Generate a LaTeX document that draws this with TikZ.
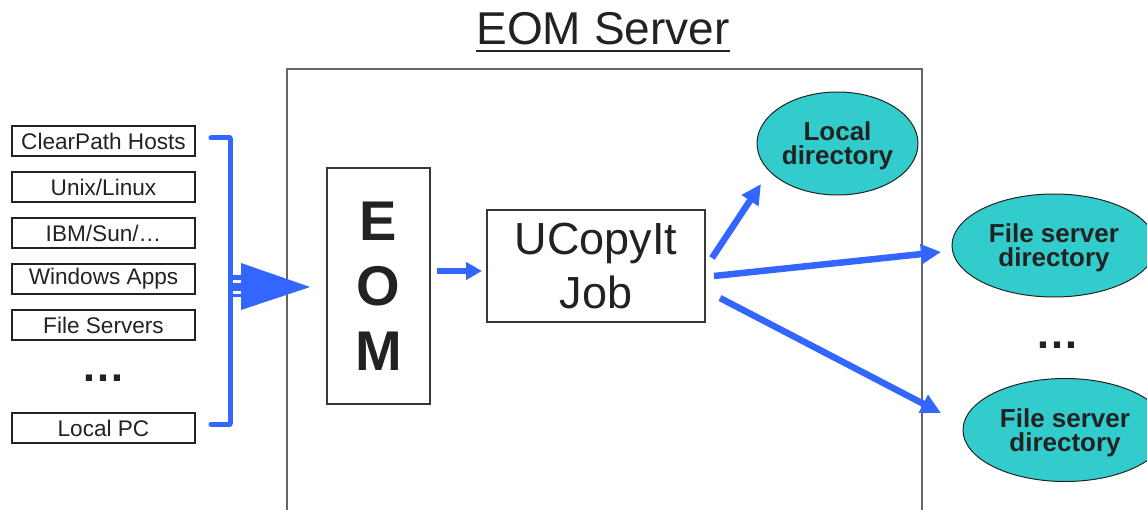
\documentclass[tikz,border=0pt]{standalone}
\usepackage{fontspec}
\setmainfont{Liberation Sans}
\usetikzlibrary{arrows.meta,shapes.geometric}
\definecolor{arrblue}{RGB}{51,102,255}
\definecolor{dirfill}{RGB}{51,204,204}
\definecolor{txt}{RGB}{34,34,34}
\definecolor{framegray}{RGB}{102,102,102}
\tikzset{
  srcbox/.style={draw=txt, line width=1.2pt, minimum width=183pt, minimum height=30pt, inner sep=0pt, font=\fontsize{22.6}{26}\selectfont, text=txt},
  procbox/.style={draw=txt!90, line width=1.2pt, inner sep=0pt, align=center, text=txt},
  dirnode/.style={ellipse, draw=txt, line width=1pt, fill=dirfill, inner sep=0pt, minimum height=103pt, align=center, text depth=0pt, font=\bfseries\fontsize{26}{24}\selectfont, text=txt},
  flow/.style={draw=arrblue, line width=6.5pt, -{Triangle[length=20pt,width=19pt]}},
  dotsnode/.style={anchor=base, inner sep=0pt, font=\bfseries\fontsize{44}{44}\selectfont, text=txt}
}
\begin{document}
\begin{tikzpicture}[x=1pt,y=-1pt]
\useasboundingbox (0,0) rectangle (1147,510);
% title
\node[anchor=base, inner sep=0pt, font=\fontsize{46}{50}\selectfont, text=txt] (title) at (603,45) {EOM Server};
\draw[line width=2.7pt, txt] ([yshift=-6pt]title.base west) -- ([yshift=-6pt]title.base east);
% server frame
\draw[framegray, line width=1.5pt] (287,512) -- (287,69) -- (922,69) -- (922,512);
% sources
\node[srcbox] (s1) at (103.5,141) {ClearPath Hosts};
\node[srcbox] (s2) at (103.5,187) {Unix/Linux};
\node[srcbox] (s3) at (103.5,233) {IBM/Sun/…};
\node[srcbox] (s4) at (103.5,279) {Windows Apps};
\node[srcbox] (s5) at (103.5,325) {File Servers};
\node[dotsnode] (ldots) at (103.5,381) {…};
\node[srcbox] (s6) at (103.5,428) {Local PC};
% bracket
\coordinate (bt) at (211,138);
\coordinate (bb) at (211,424);
\draw[arrblue, line width=5pt, line cap=round] (bt) -- (230,138);
\draw[arrblue, line width=5pt, line cap=round] (bb) -- (230,424);
\draw[arrblue, line width=5pt] (230,138) -- (230,424);
% big arrow
\fill[arrblue] (232,275) rectangle (241.5,297);
\fill[arrblue] (241,263) -- (310,287) -- (241,310) -- cycle;
\fill[white] (233,280) rectangle (241,283);
\fill[white] (233,291) rectangle (241,294);
% EOM box
\node[procbox, minimum width=103pt, minimum height=236pt, font=\bfseries\fontsize{56}{65}\selectfont] (eom) at (378.5,286) {E\\O\\M};
% UCopyIt box
\node[procbox, minimum width=218pt, minimum height=112pt, font=\fontsize{45}{54}\selectfont] (ucopy) at (596,266) {UCopyIt\\Job};
\draw[draw=arrblue, line width=6pt, -{Triangle[length=16pt,width=17pt]}] (eom.east |- 0,271) ++(6,0) coordinate (sa) -- (482,271) coordinate (sb);
% directories
\node[dirnode, minimum width=161pt] (local) at (837.5,143.5) {Local\\directory};
\node[dirnode, minimum width=204pt] (fs1) at (1054,245.5) {File server\\directory};
\node[dotsnode] (rdots) at (1057,348) {…};
\node[dirnode, minimum width=204pt] (fs2) at (1065,430) {File server\\directory};
% outgoing arrows
\coordinate (o1s) at (712,258);
\coordinate (o1e) at (761,184);
\coordinate (o2s) at (714,276);
\coordinate (o2e) at (941,252);
\coordinate (o3s) at (720,298);
\coordinate (o3e) at (941,413);
\draw[flow] (o1s) -- (o1e);
\draw[flow] (o2s) -- (o2e);
\draw[flow] (o3s) -- (o3e);
\end{tikzpicture}
\end{document}
